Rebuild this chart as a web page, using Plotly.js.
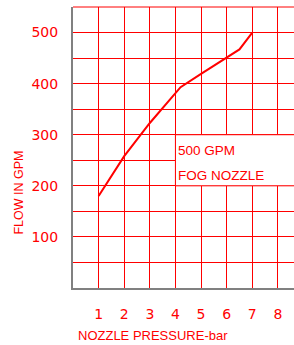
<!DOCTYPE html>
<html>
<head>
<meta charset="utf-8">
<script src="https://cdn.plot.ly/plotly-3.0.1.min.js"></script>
<style>html,body{margin:0;padding:0;background:#fff;}#chart{width:294px;height:345px;}</style>
</head>
<body>
<div id="chart"></div>
<script>
// Data
var pressureBar = [1, 2, 3, 4.2, 5, 6, 6.5, 7];
var flowGpm = [180, 258, 323, 393, 419, 450, 467, 500];
var xTickVals = [1, 2, 3, 4, 5, 6, 7, 8];
var yTickVals = [100, 200, 300, 400, 500];
var xTitle = 'NOZZLE PRESSURE-bar';
var yTitle = 'FLOW IN GPM';
var noteLines = ['500 GPM', 'FOG NOZZLE'];

var red = '#ff0000';
var numFont = {family: 'DejaVu Sans', size: 14, color: red};
var txtFont = {family: 'Liberation Sans, Arial, sans-serif', size: 13.5, color: red};

var trace = {
  x: pressureBar, y: flowGpm, type: 'scatter', mode: 'lines',
  line: {color: red, width: 2}, hoverinfo: 'skip'
};

var layout = {
  width: 294, height: 345,
  margin: {l: 73, r: 0, t: 7, b: 57},
  paper_bgcolor: '#fff', plot_bgcolor: '#fff',
  showlegend: false,
  xaxis: {
    range: [0, 8.63], tickvals: xTickVals, showgrid: true, gridcolor: red, gridwidth: 1,
    zeroline: false, showline: true, linecolor: '#808080', linewidth: 2,
    ticks: '', tickfont: numFont, ticklabelstandoff: 12, fixedrange: true
  },
  yaxis: {
    range: [0, 550], tickvals: yTickVals, showgrid: true, gridcolor: red, gridwidth: 1,
    minor: {dtick: 50, tick0: 0, showgrid: true, gridcolor: red, gridwidth: 1, ticks: ''},
    zeroline: false, showline: true, linecolor: '#808080', linewidth: 2,
    ticks: '', tickfont: numFont, ticklabelstandoff: 10, fixedrange: true
  },
  shapes: [
    {type: 'line', xref: 'paper', yref: 'paper', x0: 0, x1: 1, y0: 1, y1: 1,
     line: {color: red, width: 1}},
    {type: 'rect', xref: 'x', yref: 'y', x0: 4, x1: 9.5, y0: 200, y1: 300,
     fillcolor: '#fff', line: {color: red, width: 1}, layer: 'between'}
  ],
  annotations: [
    {xref: 'x', yref: 'y', x: 4.04, y: 269, xanchor: 'left', yanchor: 'middle',
     text: noteLines[0], showarrow: false, font: txtFont},
    {xref: 'x', yref: 'y', x: 4.04, y: 220, xanchor: 'left', yanchor: 'middle',
     text: noteLines[1], showarrow: false, font: txtFont},
    {xref: 'paper', yref: 'paper', x: 0.012, y: -0.17, xanchor: 'left', yanchor: 'middle',
     text: xTitle, showarrow: false, font: {family: 'Liberation Sans, Arial, sans-serif', size: 13, color: red}},
    {xref: 'paper', yref: 'paper', x: -0.244, y: 0.34, xanchor: 'center', yanchor: 'middle',
     text: yTitle, textangle: -90, showarrow: false, font: {family: 'Liberation Sans, Arial, sans-serif', size: 12.5, color: red}}
  ]
};

Plotly.newPlot('chart', [trace], layout, {displayModeBar: false, staticPlot: true});
</script>
</body>
</html>
